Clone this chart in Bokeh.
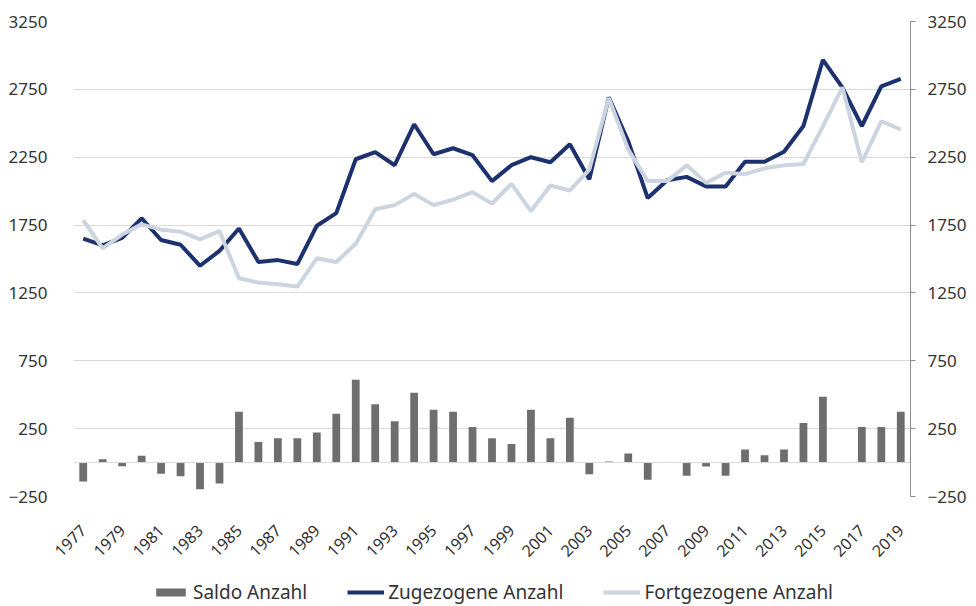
import math
from bokeh.plotting import figure
from bokeh.layouts import column
from bokeh.models import Range1d, LinearAxis, FixedTicker, Legend, LegendItem, Span
from bokeh.embed import file_html
from bokeh.resources import INLINE

years = list(range(1977, 2020))
zug = [1650, 1600, 1655, 1800, 1640, 1605, 1450, 1560, 1725, 1478, 1492, 1463, 1745,
       1838, 2235, 2287, 2191, 2493, 2272, 2316, 2265, 2074, 2191,
       2250, 2213, 2345, 2088, 2691, 2368, 1949, 2080, 2105, 2035,
       2035, 2216, 2216, 2290, 2480, 2967, 2765, 2480, 2772, 2828]
fort = [1787, 1578, 1680, 1755, 1716, 1701, 1645, 1706, 1358, 1326, 1314, 1297, 1505,
        1478, 1613, 1866, 1897, 1980, 1897, 1938, 1992, 1909, 2054,
        1853, 2042, 2005, 2159, 2686, 2306, 2074, 2074, 2190, 2061,
        2135, 2125, 2168, 2190, 2200, 2478, 2765, 2213, 2515, 2454]
saldo = [-140, 25, -27, 51, -83, -100, -196, -154, 375, 152, 179, 179, 221,
         360, 610, 429, 304, 515, 390, 375, 262, 179, 137,
         390, 179, 331, -86, 8, 66, -127, 5, -98, -29,
         -98, 96, 54, 96, 292, 485, 3, 262, 262, 375]
y_ticks = [-250, 250, 750, 1250, 1750, 2250, 2750, 3250]
x_ticks = list(range(1977, 2020, 2))
series_names = ["Saldo Anzahl", "Zugezogene Anzahl", "Fortgezogene Anzahl"]

FONT = "Noto Sans"
TXT = "#333333"
BAR_C = "#6e6e6e"
ZUG_C = "#1d316e"
FORT_C = "#ccd5df"
LW = 4

p = figure(width=976, height=572, output_backend="svg", toolbar_location=None,
           x_range=Range1d(1976.5, 2019.5), y_range=Range1d(-250, 3250),
           min_border_left=73, min_border_right=66, min_border_top=21,
           min_border_bottom=76)
p.outline_line_color = None

# left axis
ya = p.yaxis[0]
ya.ticker = FixedTicker(ticks=y_ticks)
ya.axis_line_color = None
ya.major_tick_line_color = None
ya.minor_tick_line_color = None
ya.major_label_standoff = 20
ya.major_label_text_font = FONT
ya.major_label_text_font_size = "17px"
ya.major_label_text_color = TXT

# right axis
ra = LinearAxis(ticker=FixedTicker(ticks=y_ticks))
ra.axis_line_color = "#8c8c8c"
ra.major_tick_line_color = "#8c8c8c"
ra.major_tick_out = 5
ra.major_tick_in = 0
ra.minor_tick_line_color = None
ra.major_label_standoff = 12
ra.major_label_text_font = FONT
ra.major_label_text_font_size = "17px"
ra.major_label_text_color = TXT
p.add_layout(ra, "right")

# x axis
xa = p.xaxis[0]
xa.ticker = FixedTicker(ticks=x_ticks)
xa.axis_line_color = None
xa.major_tick_line_color = None
xa.minor_tick_line_color = None
xa.major_label_orientation = math.pi / 4
xa.major_label_standoff = 25
xa.major_label_text_font = FONT
xa.major_label_text_font_size = "16px"
xa.major_label_text_color = TXT

p.xgrid.visible = False
p.ygrid.ticker = FixedTicker(ticks=y_ticks)
p.ygrid.grid_line_color = "#d9d9d9"
p.ygrid.grid_line_width = 1

p.add_layout(Span(location=0, dimension="width", line_color="#d9d9d9", line_width=1))

p.vbar(x=years, top=saldo, bottom=0, width=0.4, fill_color=BAR_C, line_color=None)
p.line(years, zug, line_color=ZUG_C, line_width=LW)
p.line(years, fort, line_color=FORT_C, line_width=LW)

# legend strip below the chart (its glyphs sit outside the visible range)
lg = figure(width=976, height=34, output_backend="svg", toolbar_location=None,
            x_axis_type=None, y_axis_type=None,
            x_range=Range1d(0, 1), y_range=Range1d(0, 1),
            min_border_left=0, min_border_right=0, min_border_top=0, min_border_bottom=0)
lg.outline_line_color = None
lg.xgrid.visible = False
lg.ygrid.visible = False
r_bar = lg.vbar(x=[50], top=[50], bottom=[49], width=0.4, fill_color=BAR_C, line_color=None)
r_zug = lg.line(x=[50, 51], y=[50, 50], line_color=ZUG_C, line_width=LW)
r_fort = lg.line(x=[50, 51], y=[50, 50], line_color=FORT_C, line_width=LW)

legend = Legend(items=[LegendItem(label=series_names[0], renderers=[r_bar]),
                       LegendItem(label=series_names[1], renderers=[r_zug]),
                       LegendItem(label=series_names[2], renderers=[r_fort])],
                orientation="horizontal", location=(79, 1),
                glyph_width=37, glyph_height=10, label_standoff=4, spacing=40,
                padding=0, margin=0, border_line_color=None, background_fill_alpha=0,
                label_text_font=FONT, label_text_font_size="19px", label_text_color=TXT)
lg.add_layout(legend, "center")

layout = column(p, lg, spacing=0)
open("out.html", "w").write(file_html(layout, INLINE))
